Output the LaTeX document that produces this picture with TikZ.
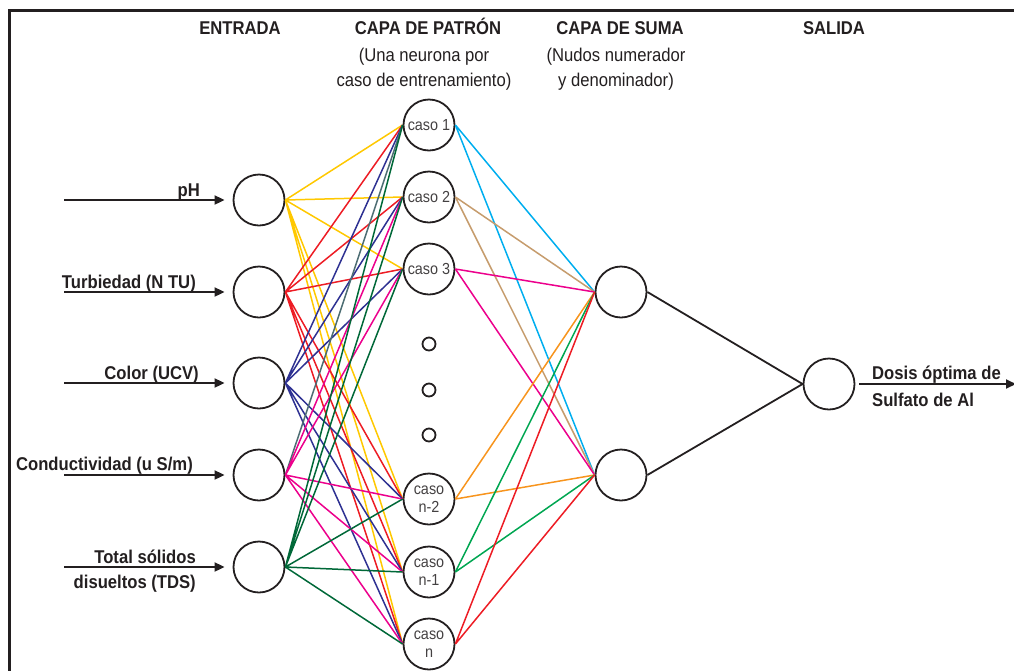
\documentclass[tikz,border=0pt]{standalone}
\usepackage{fontspec}
\setmainfont{Liberation Sans}[FakeStretch=0.9]
\usetikzlibrary{arrows.meta, positioning}
\definecolor{ink}{HTML}{231F20}
\definecolor{phgold}{HTML}{FFC800}
\definecolor{tured}{HTML}{ED1C24}
\definecolor{colnavy}{HTML}{2E3192}
\definecolor{conmag}{HTML}{EC008C}
\definecolor{tdsgreen}{HTML}{006838}
\definecolor{slate}{HTML}{4D6D73}
\definecolor{skyblue}{HTML}{00AEEF}
\definecolor{tanline}{HTML}{C69C6D}
\definecolor{orline}{HTML}{F7941D}
\definecolor{grline}{HTML}{00A651}

\begin{document}
\begin{tikzpicture}[
  x=1pt, y=-1pt,
  >={Triangle[length=10pt, width=9pt]},
  neuron/.style={circle, draw=ink, line width=1.8pt, minimum size=51pt, inner sep=0pt,
                 text=ink!85, align=center, font=\fontsize{16}{18}\selectfont},
  dotnode/.style={circle, draw=ink, line width=1.8pt, minimum size=13pt, inner sep=0pt},
  title/.style={font=\fontsize{18.5}{20}\selectfont\bfseries, text=ink, anchor=base},
  note/.style={font=\fontsize{18.5}{20}\selectfont, text=ink, anchor=base},
  inlabel/.style={font=\fontsize{18.5}{25}\selectfont\bfseries, text=ink, align=right,
                  anchor=base east, inner sep=0pt},
  feed/.style={->, line width=1.8pt, draw=ink},
  wire/.style={line width=1.5pt},
]
\useasboundingbox (0,0) rectangle (1014,670);

% Frame
\draw[ink, line width=2.6pt] (9.7,680) -- (9.7,10.7) -- (1030,10.7);

% Headings
\node[title] (hdin) at (240,34) {ENTRADA};
\node[title] (hdpat) at (428,34) {CAPA DE PATRÓN};
\node[note] at (424,61) {(Una neurona por};
\node[note] at (424,86) {caso de entrenamiento)};
\node[title] (hdsum) at (620,34) {CAPA DE SUMA};
\node[note] at (616,61) {(Nudos numerador};
\node[note] at (616,86) {y denominador)};
\node[title] (hdout) at (834,34) {SALIDA};

% === Input layer ===
\node[neuron] (in1) at (259,200) {};
\node[neuron] (in2) at (259,292) {};
\node[neuron] (in3) at (259,383) {};
\node[neuron] (in4) at (259,475) {};
\node[neuron] (in5) at (259,567) {};

\coordinate (a1) at (64,200);
\coordinate (a2) at (64,292);
\coordinate (a3) at (64,383);
\coordinate (a4) at (64,475);
\coordinate (a5) at (64,567);

\draw[feed, shorten >=8pt] (a1) -- (in1.west);
\draw[feed, shorten >=8pt] (a2) -- (in2.west);
\draw[feed, shorten >=8pt] (a3) -- (in3.west);
\draw[feed, shorten >=8pt] (a4) -- (in4.west);
\draw[feed, shorten >=8pt] (a5) -- (in5.west);

\node[inlabel] at (200,196) {pH};
\node[inlabel] at (196,288) {Turbiedad (N TU)};
\node[inlabel] at (199,379) {Color (UCV)};
\node[inlabel] at (193,470) {Conductividad (u S/m)};
\node[inlabel] at (196,588) {Total sólidos\\disueltos (TDS)};

% === Pattern layer ===
\node[neuron] (p1) at (429,125) {caso 1};
\node[neuron] (p2) at (429,197) {caso 2};
\node[neuron] (p3) at (429,269) {caso 3};
\node[dotnode] (d1) at (429,344) {};
\node[dotnode] (d2) at (429,390) {};
\node[dotnode] (d3) at (429,435) {};
\node[neuron] (pn2) at (429,499) {caso\\n-2};
\node[neuron] (pn1) at (429,572) {caso\\n-1};
\node[neuron] (pn) at (429,644) {caso\\n};

% Input -> pattern
\draw[wire, phgold] (in1.east) -- (p1.west) (in1.east) -- (p2.west) (in1.east) -- (p3.west)
  (in1.east) -- (pn2.west) (in1.east) -- (pn1.west) (in1.east) -- (pn.west);
\draw[wire, tured] (in2.east) -- (p1.west) (in2.east) -- (p2.west) (in2.east) -- (p3.west)
  (in2.east) -- (pn2.west) (in2.east) -- (pn1.west) (in2.east) -- (pn.west);
\draw[wire, colnavy] (in3.east) -- (p1.west) (in3.east) -- (p2.west) (in3.east) -- (p3.west)
  (in3.east) -- (pn2.west) (in3.east) -- (pn1.west) (in3.east) -- (pn.west);
\draw[wire, slate] (in4.east) -- (p1.west);
\draw[wire, conmag] (in4.east) -- (p2.west) (in4.east) -- (p3.west)
  (in4.east) -- (pn2.west) (in4.east) -- (pn1.west) (in4.east) -- (pn.west);
\draw[wire, tdsgreen] (in5.east) -- (p1.west) (in5.east) -- (p2.west) (in5.east) -- (p3.west)
  (in5.east) -- (pn2.west) (in5.east) -- (pn1.west) (in5.east) -- (pn.west);

% === Summation layer ===
\node[neuron] (sum1) at (621,292) {};
\node[neuron] (sum2) at (621,475) {};

\draw[wire, skyblue] (p1.east) -- (sum1.west) (p1.east) -- (sum2.west);
\draw[wire, tanline] (p2.east) -- (sum1.west) (p2.east) -- (sum2.west);
\draw[wire, conmag] (p3.east) -- (sum1.west) (p3.east) -- (sum2.west);
\draw[wire, orline] (pn2.east) -- (sum1.west) (pn2.east) -- (sum2.west);
\draw[wire, grline] (pn1.east) -- (sum1.west) (pn1.east) -- (sum2.west);
\draw[wire, tured] (pn.east) -- (sum1.west) (pn.east) -- (sum2.west);

% === Output ===
\node[neuron] (out) at (829,384) {};
\coordinate (oend) at (1016,384);

\draw[ink, line width=1.8pt] (sum1.east) -- (out.west) (sum2.east) -- (out.west);
\draw[feed, shorten <=4pt] (out.east) -- (oend);

\node[font=\fontsize{18.5}{27}\selectfont\bfseries, text=ink, align=left,
      anchor=base west, inner sep=0pt] at (872,406) {Dosis óptima de\\Sulfato de Al};

\end{tikzpicture}
\end{document}
